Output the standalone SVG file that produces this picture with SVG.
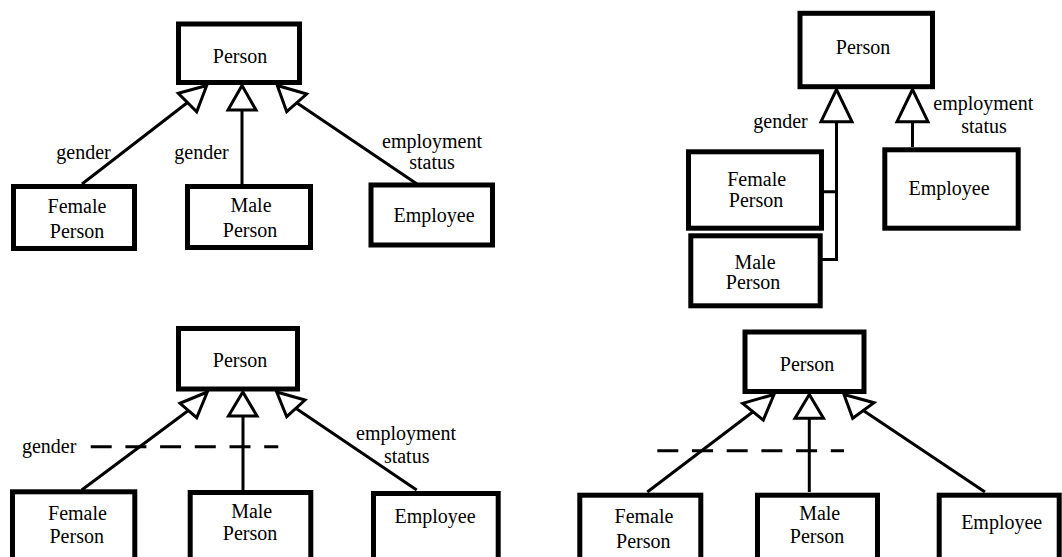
<svg xmlns="http://www.w3.org/2000/svg" width="1062" height="557" viewBox="0 0 1062 557" font-family="'Liberation Serif', 'Times New Roman', 'DejaVu Serif', serif">
<style>
.box{fill:#fff;stroke:#000;stroke-width:5}
.ln{fill:none;stroke:#000;stroke-width:3}
.tri{fill:#fff;stroke:#000;stroke-width:3;stroke-linejoin:miter}
.dash{fill:none;stroke:#000;stroke-width:3;stroke-dasharray:21 13.7}
text{font-family:'Liberation Serif','Times New Roman','DejaVu Serif',serif;font-size:20px;fill:#000;text-anchor:middle}
</style>
<rect width="1062" height="557" fill="#fff"/>

<!-- Connectors -->
<g id="connectors">
  <!-- top-left -->
  <line class="ln" x1="82" y1="184" x2="187.5" y2="102.5"/>
  <line class="ln" x1="242" y1="184" x2="242" y2="110"/>
  <line class="ln" x1="417" y1="184" x2="296.7" y2="102.8"/>
  <polygon class="tri" points="206.7,85.5 178.3,93.3 196.7,111.7"/>
  <polygon class="tri" points="242,85.5 228,110 256,110"/>
  <polygon class="tri" points="277.3,85.5 306.7,94 286.7,111.7"/>
  <!-- top-right -->
  <polyline class="ln" points="823,191.7 836.5,191.7 836.5,121.7"/>
  <polyline class="ln" points="822,259.5 836.5,259.5 836.5,191.7"/>
  <line class="ln" x1="912.5" y1="147" x2="912.5" y2="121.7"/>
  <polygon class="tri" points="836.5,89.5 821,121.7 852,121.7"/>
  <polygon class="tri" points="912.5,89.5 897,121.7 928,121.7"/>
  <!-- bottom-left -->
  <line class="ln" x1="81.7" y1="490" x2="188.3" y2="410.5"/>
  <line class="ln" x1="243" y1="490" x2="243" y2="416"/>
  <line class="ln" x1="416.7" y1="490" x2="295.8" y2="408.3"/>
  <polygon class="tri" points="207.3,392 180,403.3 196.7,417.7"/>
  <polygon class="tri" points="242.8,392 228.5,416 257,416"/>
  <polygon class="tri" points="276.7,392 305,400 286.7,416.7"/>
  <line class="dash" x1="90.7" y1="446.7" x2="278.3" y2="446.7"/>
  <!-- bottom-right -->
  <line class="ln" x1="647.3" y1="492" x2="753" y2="411.7"/>
  <line class="ln" x1="809.3" y1="492" x2="809.3" y2="418.3"/>
  <line class="ln" x1="985" y1="492" x2="863.3" y2="410.5"/>
  <polygon class="tri" points="774,394.5 742.7,403.3 763.3,420"/>
  <polygon class="tri" points="809.3,394.5 795,418.3 823.5,418.3"/>
  <polygon class="tri" points="844,394.5 874,402.7 852.7,418.3"/>
  <line class="dash" x1="657.3" y1="450.7" x2="844" y2="450.7"/>
</g>

<!-- Connector labels -->
<g id="labels">
  <text x="83.5" y="159">gender</text>
  <text x="201.5" y="159">gender</text>
  <text x="432" y="148">employment</text>
  <text x="432" y="169">status</text>
  <text x="780.5" y="127.7">gender</text>
  <text x="983.3" y="109.5">employment</text>
  <text x="984" y="133.3">status</text>
  <text x="49.2" y="452.7">gender</text>
  <text x="406" y="440">employment</text>
  <text x="406.7" y="462.7">status</text>
</g>

<!-- Top-left diagram -->
<g id="tl-person"><rect class="box" x="178.5" y="24" width="121" height="58.5"/><text x="240" y="63">Person</text></g>
<g id="tl-female"><rect class="box" x="13.5" y="186.5" width="121" height="62"/><text x="77" y="213">Female</text><text x="77" y="238">Person</text></g>
<g id="tl-male"><rect class="box" x="187.5" y="186.5" width="123" height="61"/><text x="251" y="212">Male</text><text x="250" y="237">Person</text></g>
<g id="tl-employee"><rect class="box" x="371" y="185" width="121.5" height="60"/><text x="434" y="221.7">Employee</text></g>

<!-- Top-right diagram -->
<g id="tr-person"><rect class="box" x="800" y="13.3" width="132.5" height="73.4"/><text x="863" y="54">Person</text></g>
<g id="tr-female"><rect class="box" x="688.5" y="151.8" width="133" height="76.4"/><text x="756.7" y="186">Female</text><text x="756" y="207">Person</text></g>
<g id="tr-male"><rect class="box" x="690.8" y="235.8" width="129.4" height="70"/><text x="755" y="268.5">Male</text><text x="753" y="289">Person</text></g>
<g id="tr-employee"><rect class="box" x="884.8" y="149.8" width="133.4" height="78.4"/><text x="949" y="195">Employee</text></g>

<!-- Bottom-left diagram -->
<g id="bl-person"><rect class="box" x="178.5" y="328.5" width="119" height="60.5"/><text x="240" y="367.3">Person</text></g>
<g id="bl-female"><rect class="box" x="12.5" y="491.8" width="122.3" height="70"/><text x="77.5" y="520">Female</text><text x="76.7" y="543.3">Person</text></g>
<g id="bl-male"><rect class="box" x="190.2" y="492.5" width="120.6" height="70"/><text x="251.7" y="517.7">Male</text><text x="250" y="540">Person</text></g>
<g id="bl-employee"><rect class="box" x="373.5" y="493.5" width="124.7" height="70"/><text x="435" y="523.3">Employee</text></g>

<!-- Bottom-right diagram -->
<g id="br-person"><rect class="box" x="745" y="332" width="119" height="59.5"/><text x="807" y="371">Person</text></g>
<g id="br-female"><rect class="box" x="579.8" y="495.2" width="121" height="70"/><text x="644" y="523.3">Female</text><text x="643.3" y="548.3">Person</text></g>
<g id="br-male"><rect class="box" x="757.5" y="495.2" width="120" height="70"/><text x="819.7" y="520">Male</text><text x="817" y="542.7">Person</text></g>
<g id="br-employee"><rect class="box" x="939.2" y="495.2" width="120" height="70"/><text x="1001.7" y="529.3">Employee</text></g>
</svg>
